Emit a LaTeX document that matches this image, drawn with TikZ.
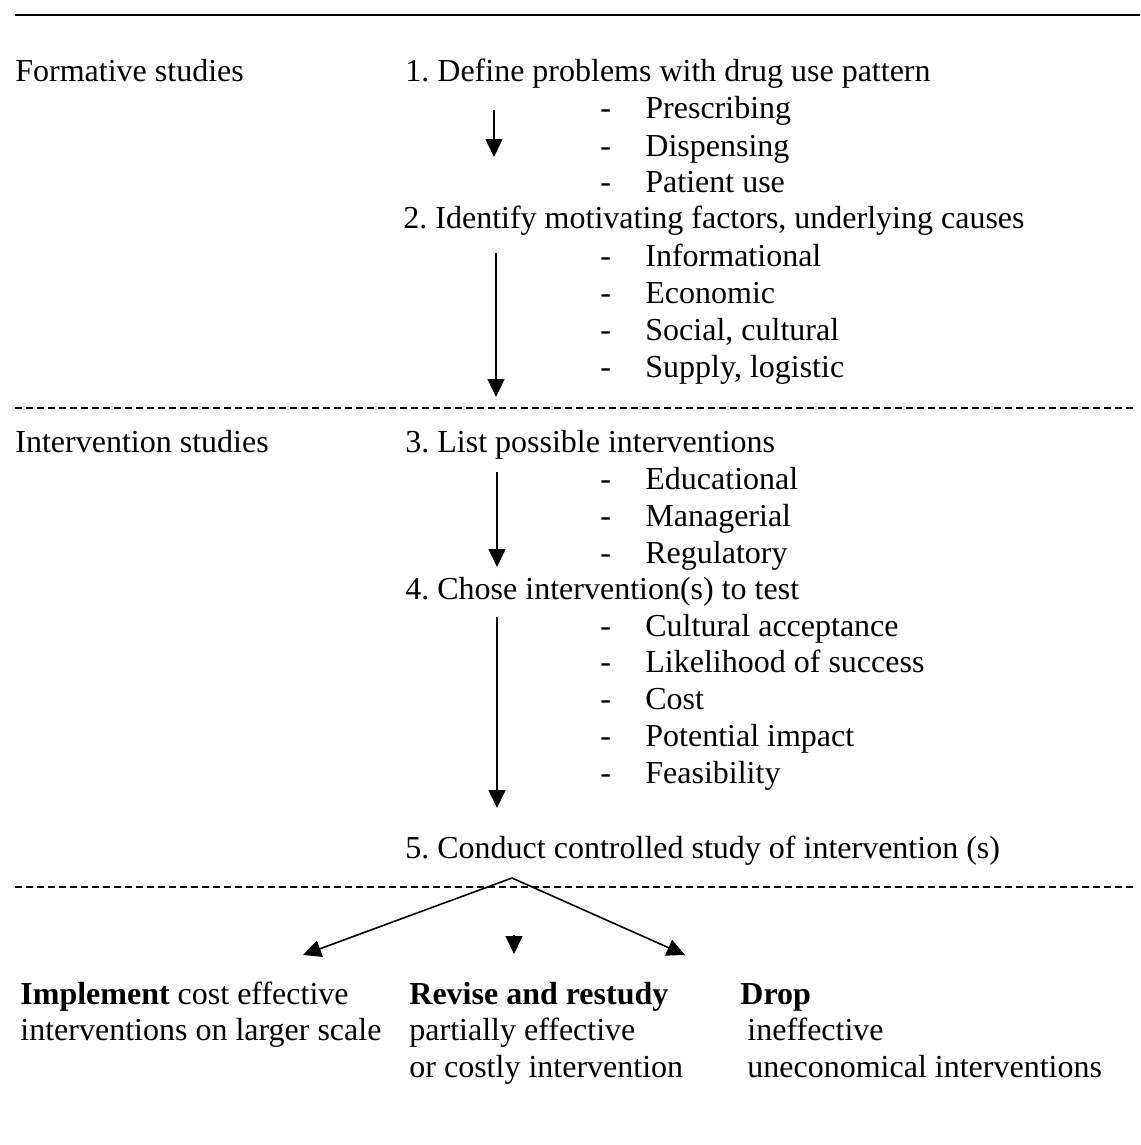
\documentclass[tikz,border=0pt]{standalone}
\usepackage{fontspec}
\setmainfont{Liberation Serif}
\usetikzlibrary{arrows.meta}
\frenchspacing

\begin{document}
\begin{tikzpicture}[x=0.5pt,y=-0.5pt,
  nodes = {anchor=base west,inner sep=0pt,font=\fontsize{16}{19}\selectfont},
  flow/.style = {line width=0.8pt,-{Triangle[length=9pt,width=8.5pt]}},
  sep/.style = {line width=0.8pt,dash pattern=on 3.5pt off 2pt}]
\useasboundingbox (0,0) rectangle (1140,1145);

\newcommand{\dash}{\makebox[22.5pt][l]{-}}

\draw[line width=1pt] (15,15) -- (1140,15);

% formative studies
\node (formative) at (15,82) {Formative studies};
\node (define) at (405,82) {1. Define problems with drug use pattern};
\node (prescribing) at (600,119) {\dash Prescribing};
\node (dispensing) at (600,156) {\dash Dispensing};
\node (patient) at (600,192) {\dash Patient use};
\node (identify) at (403,228) {2. Identify motivating factors, underlying causes};
\node (informational) at (600,266) {\dash Informational};
\node (economic) at (600,303) {\dash Economic};
\node (social) at (600,340) {\dash Social, cultural};
\node (supply) at (600,377) {\dash Supply, logistic};

\coordinate (defineout) at (494,110);
\coordinate (identifyin) at (494,157);
\coordinate (identifyout) at (496,253);
\coordinate (listin) at (496,397);
\draw[flow] (defineout) to (identifyin);
\draw[flow] (identifyout) to (listin);

\coordinate (sepaleft) at (15,408);
\coordinate (separight) at (1135,408);
\draw[sep] (sepaleft) to (separight);

% intervention studies
\node (intervention) at (15,452) {Intervention studies};
\node (list) at (405,452) {3. List possible interventions};
\node (educational) at (600,489) {\dash Educational};
\node (managerial) at (600,526) {\dash Managerial};
\node (regulatory) at (600,563) {\dash Regulatory};
\node (chose) at (405,599) {4. Chose intervention(s) to test};
\node (cultural) at (600,636) {\dash Cultural acceptance};
\node (likelihood) at (600,672) {\dash Likelihood of success};
\node (cost) at (600,709) {\dash Cost};
\node (impact) at (600,746) {\dash Potential impact};
\node (feasibility) at (600,783) {\dash Feasibility};
\node (conduct) at (405,858) {5. Conduct controlled study of intervention (s)};

\coordinate (listout) at (497,472);
\coordinate (chosein) at (497,567);
\coordinate (choseout) at (497,617);
\coordinate (conductin) at (497,808);
\draw[flow] (listout) to (chosein);
\draw[flow] (choseout) to (conductin);

\coordinate (sepbleft) at (15,887);
\coordinate (sepbright) at (1135,887);
\draw[sep] (sepbleft) to (sepbright);

% outcomes
\coordinate (split) at (512,878);
\coordinate (implementin) at (303,955);
\coordinate (revisetop) at (514,935);
\coordinate (revisein) at (514,954);
\coordinate (dropin) at (685,955);
\draw[flow] (split) to (implementin);
\draw[flow] (split) to (dropin);
\draw[flow] (revisetop) to (revisein);

\node (implement) at (20,1004) {\textbf{Implement} cost effective};
\node (implement2) at (20,1040) {interventions on larger scale};
\node (revise) at (409,1004) {\textbf{Revise and restudy}};
\node (revise2) at (409,1040) {partially effective};
\node (revise3) at (409,1077) {or costly intervention};
\node (drop) at (740,1004) {\textbf{Drop}};
\node (drop2) at (747,1040) {ineffective};
\node (drop3) at (747,1077) {uneconomical interventions};
\end{tikzpicture}
\end{document}
